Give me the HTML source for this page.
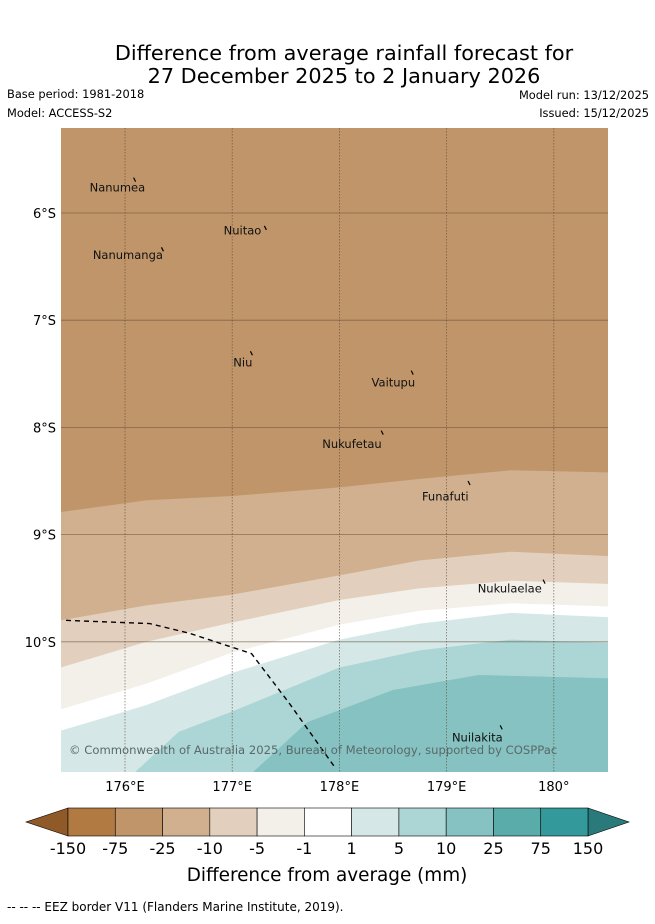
<!DOCTYPE html>
<html><head><meta charset="utf-8"><style>
body{margin:0;background:#fff;}
svg text{font-family:"DejaVu Sans","Liberation Sans",sans-serif;}
</style></head><body>
<svg id="chart" width="655" height="919" xmlns="http://www.w3.org/2000/svg">
<text x="344" y="60" font-size="20.8" text-anchor="middle" fill="#000">Difference from average rainfall forecast for</text>
<text x="344" y="83" font-size="20.8" text-anchor="middle" fill="#000">27 December 2025 to 2 January 2026</text>
<text x="7" y="98" font-size="11.4">Base period: 1981-2018</text>
<text x="7" y="117" font-size="11.4">Model: ACCESS-S2</text>
<text x="649" y="99" font-size="11.4" text-anchor="end">Model run: 13/12/2025</text>
<text x="649" y="117" font-size="11.4" text-anchor="end">Issued: 15/12/2025</text>
<defs><clipPath id="mapclip"><rect x="61" y="128" width="547" height="644"/></clipPath></defs>
<g id="map" clip-path="url(#mapclip)"></g>
<g id="axes"></g>
<g id="cbar"></g>
<text x="327" y="881" font-size="18.4" text-anchor="middle">Difference from average (mm)</text>
<text x="7" y="911" font-size="12">--  --  -- EEZ border V11 (Flanders Marine Institute, 2019).</text>
</svg>
<script>
const lonTicks=[176,177,178,179,180];
const lonLabels=["176°E","177°E","178°E","179°E","180°"];
const latTicks=[6,7,8,9,10];
const latLabels=["6°S","7°S","8°S","9°S","10°S"];
const bandColors=["#c09569","#d0b08f","#e3cfbd","#f3efe9","#ffffff","#d5e8e7","#acd5d5","#85c2c1"];
const lonsMain=[175.4,176.2,177,178,178.75,179.6,180.5];
const latA=[8.79,8.68,8.64,8.56,8.48,8.40,8.42];
const latB=[9.80,9.66,9.56,9.38,9.24,9.16,9.20];
const latC=[10.24,10.00,9.82,9.61,9.50,9.43,9.46];
const latD=[10.63,10.39,10.10,9.84,9.71,9.64,9.67];
const latE=[10.83,10.59,10.29,9.98,9.83,9.73,9.77];
const lonsF=[176.1,176.5,177,178,178.75,179.6,180.5];
const latF=[11.21,10.84,10.65,10.24,10.08,9.98,10.01];
const lonsG=[177.2,177.7,178.5,179.3,180.5];
const latG=[11.21,10.75,10.45,10.31,10.34];
const eezLon=[175.45,176.23,176.6,177.18,177.53,177.95];
const eezLat=[9.80,9.83,9.92,10.11,10.57,11.16];
const islandNames=["Nanumea","Nuitao","Nanumanga","Niu","Vaitupu","Nukufetau","Funafuti","Nukulaelae","Nuilakita"];
const islandLon=[176.08,177.3,176.34,177.17,178.67,178.39,179.2,179.9,179.5];
const islandLat=[5.67,6.12,6.32,7.29,7.47,8.03,8.5,9.42,10.78];
const labelLon=[175.67,176.92,175.70,177.01,178.3,177.84,178.77,179.29,179.05];
const labelLat=[5.80,6.20,6.43,7.43,7.62,8.19,8.68,9.54,10.93];
const cbLabels=["-150","-75","-25","-10","-5","-1","1","5","10","25","75","150"];
const cbColors=["#b07a42","#c09569","#d0b08f","#e3cfbd","#f3efe9","#ffffff","#d5e8e7","#acd5d5","#85c2c1","#5aacab","#33999a"];

const x=lon=>125+(lon-176)*107.2;
const y=lat=>213+(lat-6)*107.2;
const NS="http://www.w3.org/2000/svg";
function mk(tag,attrs,parent){const e=document.createElementNS(NS,tag);for(const k in attrs)e.setAttribute(k,attrs[k]);parent.appendChild(e);return e;}
const map=document.getElementById('map');
let bg=mk('rect',{x:61,y:128,width:547,height:644,fill:bandColors[0]},map);


const bounds=[[lonsMain,latA],[lonsMain,latB],[lonsMain,latC],[lonsMain,latD],[lonsMain,latE],[lonsF,latF],[lonsG,latG]];
const bandNames=["band-minus25-minus10","band-minus10-minus5","band-minus5-minus1","band-minus1-1","band-1-5","band-5-10","band-10-25"];
bounds.forEach((b,i)=>{
  const [lo,la]=b;
  let pts=lo.map((v,j)=>x(v)+','+y(la[j]));
  pts.push('620,'+y(la[la.length-1]),'620,790',x(lo[0])+',790');
  const p=mk('polygon',{points:pts.join(' '),fill:bandColors[i+1]},map);
  
  
});
lonTicks.forEach(l=>{const g=mk('line',{x1:x(l),x2:x(l),y1:128,y2:772,stroke:'#5a4632','stroke-width':0.8,'stroke-dasharray':'1.5,1.5','stroke-opacity':0.7},map);
  });
latTicks.forEach(l=>{const g=mk('line',{x1:61,x2:608,y1:y(l),y2:y(l),stroke:'#5a4632','stroke-width':0.8,'stroke-opacity':0.6},map);
  });
const eez=mk('polyline',{points:eezLon.map((v,j)=>x(v)+','+y(eezLat[j])).join(' '),fill:'none',stroke:'#000','stroke-width':1.4,'stroke-dasharray':'5,4'},map);


islandNames.forEach((n,i)=>{
  const m=mk('line',{x1:x(islandLon[i]),y1:y(islandLat[i]),x2:x(islandLon[i])+2,y2:y(islandLat[i])+4,stroke:'#000','stroke-width':1.2},map);
  
  const t=mk('text',{x:x(labelLon[i]),y:y(labelLat[i]),'font-size':11.5,fill:'#111'},map);
  t.textContent=n;
  
});
const cp=mk('text',{x:69,y:754,'font-size':11.6,fill:'#5a6a6a'},map);
cp.textContent="© Commonwealth of Australia 2025, Bureau of Meteorology, supported by COSPPac";

const axes=document.getElementById('axes');
lonTicks.forEach((l,i)=>{const t=mk('text',{x:x(l),y:791,'font-size':13,'text-anchor':'middle'},axes);t.textContent=lonLabels[i];
  });
latTicks.forEach((l,i)=>{const t=mk('text',{x:56,y:y(l)+5,'font-size':13,'text-anchor':'end'},axes);t.textContent=latLabels[i];
  });
const cb=document.getElementById('cbar');
const cx0=68,cw=520/cbColors.length,cy=808,ch=28;
const la=mk('polygon',{points:`${cx0},${cy} ${cx0},${cy+ch} 26,${cy+ch/2}`,fill:'#8f5a28',stroke:'#000','stroke-width':0.6},cb);

const ra=mk('polygon',{points:`588,${cy} 588,${cy+ch} 629,${cy+ch/2}`,fill:'#2b7a7b',stroke:'#000','stroke-width':0.6},cb);

cbColors.forEach((c,i)=>{const r=mk('rect',{x:cx0+i*cw,y:cy,width:cw,height:ch,fill:c,stroke:'#000','stroke-width':0.6},cb);
  });
cbLabels.forEach((s,i)=>{const t=mk('text',{x:cx0+i*cw,y:854,'font-size':16,'text-anchor':'middle'},cb);t.textContent=s;
  });
</script>
</body></html>
